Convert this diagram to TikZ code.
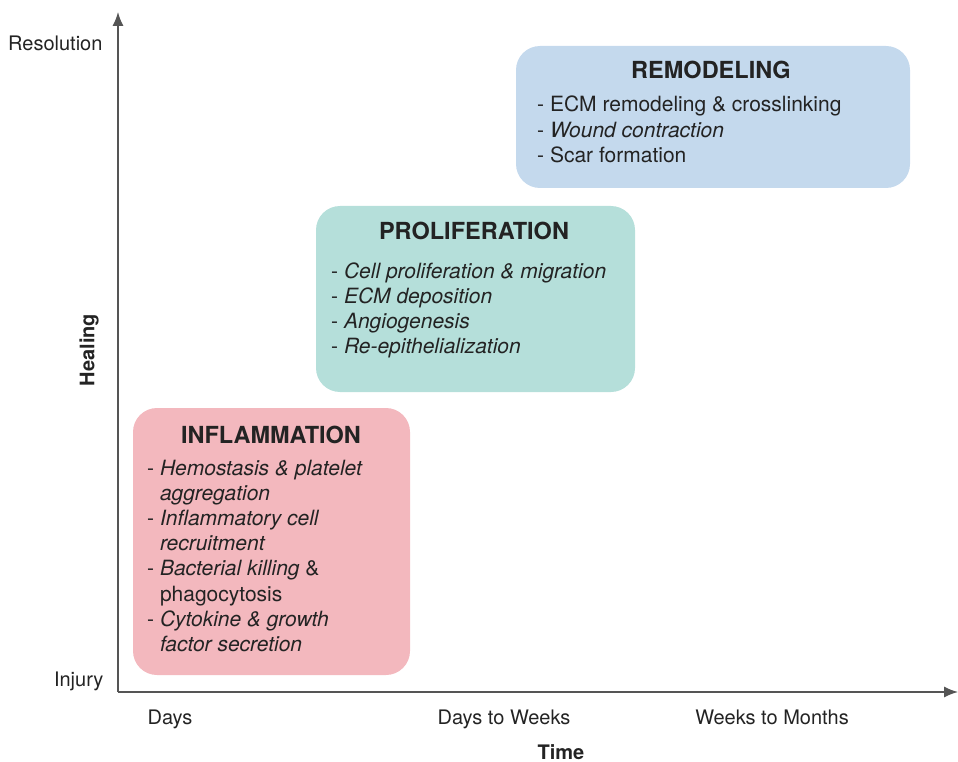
\documentclass[tikz,border=0pt]{standalone}
\usepackage{fontspec}
\setmainfont{TeX Gyre Heros}
\usepackage{xcolor}
\usepackage{tikz}
\usetikzlibrary{shapes,arrows,arrows.meta}

\definecolor{inflpink}{RGB}{243,184,190}
\definecolor{prolteal}{RGB}{181,223,218}
\definecolor{remblue}{RGB}{196,217,237}
\definecolor{txtgray}{RGB}{35,35,35}
\definecolor{axgray}{RGB}{85,85,85}

\tikzset{
    phase/.style = {rectangle, rounded corners = 24pt, draw = none, inner sep = 0pt},
    ttl/.style = {anchor = base, text = txtgray, font = \fontsize{23.5}{28}\selectfont\bfseries},
    items/.style = {anchor = north west, align = left, inner sep = 0pt, text = txtgray, font = \fontsize{21}{25.2}\selectfont},
    axlbl/.style = {text = txtgray, font = \fontsize{20}{23}\selectfont},
    axis/.style = {-{Latex[length = 14pt, width = 11pt]}, axgray, line width = 1.3pt},
}

\begin{document}
\begin{tikzpicture}[x = 1pt, y = -1pt]
    		\useasboundingbox (0,0) rectangle (958,762);
    		
    		\node (infl)[phase, fill = inflpink, minimum width = 277pt, minimum height = 267pt] at (271.5,541.5) {};
    		\node (prol)[phase, fill = prolteal, minimum width = 319pt, minimum height = 186pt] at (475.5,299) {};
    		\node (rem)[phase, fill = remblue, minimum width = 394pt, minimum height = 142pt] at (713,117) {};
    		
    		\node (inflt)[ttl] at (271,443.5) {INFLAMMATION};
    		\node (prolt)[ttl] at (474,239.5) {PROLIFERATION};
    		\node (remt)[ttl] at (711,78.5) {REMODELING};
    		
    		\node (infli)[items] at (147,459.5) {- \textit{Hemostasis \& platelet}\\
    			\phantom{- }\textit{aggregation}\\
    			- \textit{Inflammatory cell}\\
    			\phantom{- }\textit{recruitment}\\
    			- \textit{Bacterial killing} \&\\
    			\phantom{- }phagocytosis\\
    			- \textit{Cytokine \& growth}\\
    			\phantom{- }\textit{factor secretion}};
    		\node (proli)[items] at (331,262.5) {- \textit{Cell proliferation \& migration}\\
    			- \textit{ECM deposition}\\
    			- \textit{Angiogenesis}\\
    			- \textit{Re-epithelialization}};
    		\node (remi)[items] at (537,96) {- ECM remodeling \& crosslinking\\
    			- \textit{Wound contraction}\\
    			- Scar formation};
    		
        	\coordinate (o) at (118,692);
        	\coordinate (ytop) at (118,12);
        	\coordinate (xend) at (958,692);
        	\draw[axis] (o) -- (ytop);
        	\draw[axis] (o) -- (xend);
        	
        	\node (res)[axlbl, anchor = base east] at (106,51) {Resolution};
        	\node (inj)[axlbl, anchor = base east] at (107,686) {Injury};
        	\node (heal)[axlbl, font = \fontsize{20}{23}\selectfont\bfseries, rotate = 90] at (89,350) {Healing};
        	\node (d)[axlbl, anchor = base] at (170,724) {Days};
        	\node (dw)[axlbl, anchor = base] at (504,724) {Days to Weeks};
        	\node (wm)[axlbl, anchor = base] at (772,724) {Weeks to Months};
        	\node (t)[axlbl, anchor = base, inner sep = 0.5pt, font = \fontsize{20}{23}\selectfont\bfseries] at (561,759) {Time};
        	
\end{tikzpicture}
\end{document}
